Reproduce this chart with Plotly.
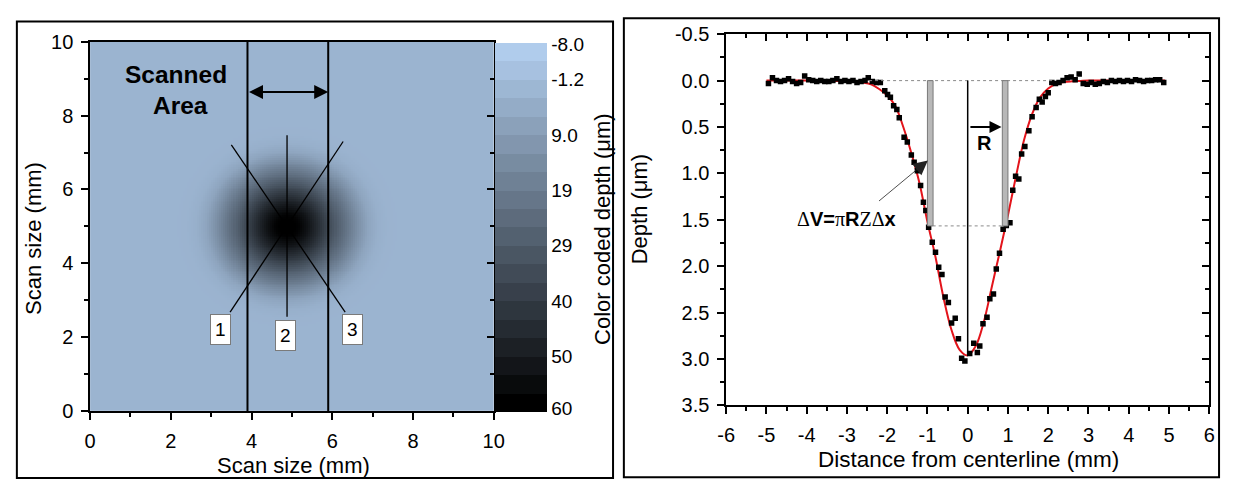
import numpy as np
import plotly.graph_objects as go

W, H = 1233, 491

# ---------------- Left panel data (colour-coded depth map) ----------------
radius_mm = [0.0, 0.3, 0.5, 0.75, 1.0, 1.25, 1.5, 1.75, 2.0, 2.25, 2.5, 3.0]
depth_um = [62, 59, 54, 46, 37, 28, 20, 12, 5, 1.5, 0.3, 0]
spot_center_mm = [4.88, 5.0]
cbar_ticktext = ["-8.0", "-1.2", "9.0", "19", "29", "40", "50", "60"]
cbar_tickdepth = [-7.6, -1.2, 9.0, 19.2, 29.4, 39.6, 49.8, 59.4]
depth_min, depth_max, n_levels = -8.0, 60.0, 20
scan_ticks = [0, 2, 4, 6, 8, 10]
profile_labels = ["1", "2", "3"]

# ---------------- Right panel data (depth profile) ----------------
dist_mm = [-4.95, -4.85, -4.75, -4.65, -4.55, -4.45, -4.35, -4.25, -4.15, -4.05,
           -3.95, -3.85, -3.75, -3.65, -3.55, -3.45, -3.35, -3.25, -3.15, -3.05,
           -2.95, -2.85, -2.75, -2.65, -2.55,
           -2.47, -2.37, -2.27, -2.17, -2.06, -1.99, -1.92, -1.84, -1.76, -1.70,
           -1.58, -1.50, -1.40, -1.33, -1.25, -1.17, -1.10, -1.04, -0.97, -0.88,
           -0.80, -0.72, -0.64, -0.56, -0.48, -0.40, -0.31, -0.23, -0.15, -0.07,
           0.05, 0.15, 0.24, 0.30, 0.38, 0.48, 0.55, 0.64, 0.71, 0.79,
           0.88, 0.96, 1.05, 1.12, 1.19, 1.27, 1.34, 1.42, 1.52, 1.60,
           1.70, 1.78, 1.85, 1.93, 2.00,
           2.09, 2.18, 2.27, 2.37, 2.47, 2.57, 2.67, 2.77, 2.87, 2.97,
           3.07, 3.17, 3.27, 3.37, 3.47, 3.57, 3.67, 3.77, 3.87, 3.97,
           4.07, 4.17, 4.27, 4.37, 4.47, 4.57, 4.67, 4.77, 4.87]
depth_meas = [0.03, -0.03, 0.00, 0.01, 0.00, -0.02, 0.01, 0.03, 0.02, -0.05,
              -0.01, 0.00, 0.01, 0.00, 0.01, 0.01, 0.00, -0.02, 0.01, 0.00,
              0.01, 0.00, 0.02, 0.01, 0.00,
              -0.03, 0.01, 0.02, 0.02, 0.11, 0.15, 0.18, 0.27, 0.31, 0.40,
              0.61, 0.66, 0.80, 0.88, 0.97, 1.13, 1.31, 1.40, 1.58, 1.74,
              1.85, 2.01, 2.09, 2.33, 2.39, 2.61, 2.56, 2.78, 2.99, 3.02,
              2.94, 2.83, 2.93, 2.86, 2.62, 2.55, 2.35, 2.30, 2.03, 1.86,
              1.60, 1.56, 1.53, 1.18, 1.03, 1.06, 0.79, 0.71, 0.54, 0.39,
              0.29, 0.20, 0.23, 0.17, 0.13,
              0.02, 0.03, 0.02, 0.00, -0.03, -0.04, -0.01, -0.07, 0.03, 0.04,
              0.02, 0.04, 0.03, 0.01, 0.02, 0.00, 0.01, 0.00, 0.01, 0.00,
              0.01, -0.01, 0.00, 0.01, 0.00, 0.00, -0.01, -0.01, 0.02]
fit_x = [-5.0, -4.0, -3.0, -2.8, -2.6, -2.4, -2.2, -2.0, -1.8, -1.6, -1.4, -1.2,
         -1.0, -0.8, -0.6, -0.4, -0.2, 0.0, 0.2, 0.4, 0.6, 0.8, 1.0, 1.2, 1.4,
         1.6, 1.8, 2.0, 2.2, 2.4, 2.6, 2.8, 3.0, 4.0, 4.9]
fit_y = [0.0, 0.0, 0.005, 0.01, 0.02, 0.04, 0.09, 0.16, 0.27, 0.50, 0.78, 1.10,
         1.52, 1.90, 2.34, 2.69, 2.90, 2.96, 2.86, 2.60, 2.22, 1.84, 1.45, 1.03, 0.64,
         0.36, 0.18, 0.085, 0.035, 0.015, 0.008, 0.004, 0.0, 0.0, 0.0]
dist_ticks = [-6, -5, -4, -3, -2, -1, 0, 1, 2, 3, 4, 5, 6]
depth_ticks = [-0.5, 0.0, 0.5, 1.0, 1.5, 2.0, 2.5, 3.0, 3.5]
slice_depth = 1.565

assert len(dist_mm) == len(depth_meas)
assert len(fit_x) == len(fit_y)

# ---------------- styling helpers ----------------
FONT = "Liberation Sans, Arial, sans-serif"
SERIF = "Liberation Serif, Times New Roman, serif"
LIGHT = np.array([176, 204, 236])


def rgb(v):
    v = np.clip(v, 0, 255).round().astype(int)
    return f"rgb({v[0]},{v[1]},{v[2]})"


def px_x(p):
    return p / W


def px_y(p):
    return 1 - p / H


# depth map grid built from the radial profile
gx = np.linspace(0.025, 9.975, 200)
gy = np.linspace(0.025, 9.975, 200)
XX, YY = np.meshgrid(gx, gy)
RR = np.hypot(XX - spot_center_mm[0], YY - spot_center_mm[1])
ZZ = np.interp(RR, radius_mm, depth_um)

smooth_scale = [[0.0, rgb(LIGHT)], [1.0, rgb(LIGHT * 0)]]
stepped = []
for j in range(n_levels):
    i = n_levels - 1 - j
    c = rgb(LIGHT * (1 - i / (n_levels - 1)))
    stepped.append([j / n_levels, c])
    stepped.append([(j + 1) / n_levels, c])

fig = go.Figure()

fig.add_trace(go.Heatmap(x=gx, y=gy, z=ZZ, zmin=depth_min, zmax=depth_max,
                         colorscale=smooth_scale, showscale=False,
                         hoverinfo="skip", xaxis="x", yaxis="y"))

# colour bar (levels, -8 at the top)
cb_top, cb_bot = 33.0, 419.5
fig.add_trace(go.Scatter(
    x=[-5], y=[-5], mode="markers", xaxis="x", yaxis="y", showlegend=False,
    hoverinfo="skip",
    marker=dict(color=[0], cmin=-depth_max, cmax=-depth_min, colorscale=stepped,
                showscale=True, size=1,
                colorbar=dict(x=px_x(494.5), xanchor="left", xpad=0, ypad=0,
                              y=px_y((cb_top + cb_bot) / 2), yanchor="middle",
                              len=(cb_bot - cb_top) / H, lenmode="fraction",
                              thickness=52, thicknessmode="pixels",
                              outlinewidth=0, ticks="", ticklen=5,
                              tickvals=[-d for d in cbar_tickdepth],
                              ticktext=cbar_ticktext,
                              tickfont=dict(family=FONT, size=19, color="black")))))

# right panel traces
fig.add_trace(go.Scatter(x=fit_x, y=fit_y, mode="lines", xaxis="x2", yaxis="y2",
                         line=dict(color="#e3141b", width=2, shape="spline"),
                         showlegend=False, hoverinfo="skip"))
fig.add_trace(go.Scatter(x=dist_mm, y=depth_meas, mode="markers", xaxis="x2", yaxis="y2",
                         marker=dict(symbol="square", size=5.5, color="black"),
                         showlegend=False, hoverinfo="skip"))

# dummy traces to activate the mirrored tick axes
fig.add_trace(go.Scatter(x=[None], y=[None], xaxis="x", yaxis="y3", showlegend=False))
fig.add_trace(go.Scatter(x=[None], y=[None], xaxis="x4", yaxis="y2", showlegend=False))
fig.add_trace(go.Scatter(x=[None], y=[None], xaxis="x2", yaxis="y4", showlegend=False))

axis_common = dict(showgrid=False, zeroline=False, showline=True, linecolor="black",
                   linewidth=1.5, ticks="outside", ticklen=7, tickwidth=1.5,
                   tickcolor="black", tickfont=dict(family=FONT, size=20, color="black"),
                   fixedrange=True, ticklabelstandoff=4)
mirror_common = dict(showgrid=False, zeroline=False, showline=False, ticks="inside",
                     ticklen=7, tickwidth=1.5, tickcolor="black", showticklabels=False,
                     fixedrange=True)

L_dom_x = [px_x(82.4), px_x(492.7)]
L_dom_y = [px_y(418.7), px_y(32.3)]
R_dom_x = [px_x(729.0), px_x(1220.0)]
R_dom_y = [px_y(413.0), px_y(24.3)]

fig.update_layout(
    width=W, height=H, autosize=False,
    margin=dict(l=0, r=0, t=0, b=0),
    paper_bgcolor="white", plot_bgcolor="white",
    font=dict(family=FONT, color="black"),
    showlegend=False,
    xaxis=dict(domain=L_dom_x, range=[0, 10], anchor="y", mirror=True,
               tickvals=scan_ticks, ticktext=[str(t) for t in scan_ticks],
               minor=dict(dtick=1, ticks="outside", ticklen=4, tickwidth=1.5, tickcolor="black"),
               **axis_common),
    yaxis=dict(domain=L_dom_y, range=[0, 10], anchor="x", mirror=True,
               tickvals=scan_ticks, ticktext=[str(t) for t in scan_ticks],
               minor=dict(dtick=1, ticks="outside", ticklen=4, tickwidth=1.5, tickcolor="black"),
               **axis_common),
    yaxis3=dict(overlaying="y", side="right", anchor="x", range=[0, 10],
                tickvals=scan_ticks,
                minor=dict(dtick=1, ticks="inside", ticklen=4, tickwidth=1.5, tickcolor="black"),
                **mirror_common),
    xaxis2=dict(domain=R_dom_x, range=[-6, 6], anchor="y2", mirror=True,
                tickvals=dist_ticks, ticktext=[str(t) for t in dist_ticks],
                minor=dict(dtick=0.5, ticks="outside", ticklen=4, tickwidth=1.5, tickcolor="black"),
                **axis_common),
    yaxis2=dict(domain=R_dom_y, range=[3.5, -0.5], anchor="x2", mirror=True,
                tickvals=depth_ticks, ticktext=[f"{t:.1f}" for t in depth_ticks],
                minor=dict(dtick=0.25, ticks="outside", ticklen=4, tickwidth=1.5, tickcolor="black"),
                **axis_common),
    xaxis4=dict(overlaying="x2", side="top", anchor="y2", range=[-6, 6],
                tickvals=dist_ticks,
                minor=dict(dtick=0.5, ticks="inside", ticklen=4, tickwidth=1.5, tickcolor="black"),
                **mirror_common),
    yaxis4=dict(overlaying="y2", side="right", anchor="x2", range=[3.5, -0.5],
                tickvals=depth_ticks,
                minor=dict(dtick=0.25, ticks="inside", ticklen=4, tickwidth=1.5, tickcolor="black"),
                **mirror_common),
)

shapes = []
# panel frames
shapes.append(dict(type="rect", xref="paper", yref="paper", x0=px_x(8), x1=px_x(614),
                   y0=px_y(489), y1=px_y(11), line=dict(color="black", width=2)))
shapes.append(dict(type="rect", xref="paper", yref="paper", x0=px_x(625), x1=px_x(1230),
                   y0=px_y(488), y1=px_y(7.5), line=dict(color="black", width=2)))
# scanned-area boundaries and profile lines (left)
for xv in (3.9, 5.9):
    shapes.append(dict(type="line", xref="x", yref="y", x0=xv, x1=xv, y0=0, y1=10,
                       line=dict(color="black", width=2)))
for (x0, y0, x1, y1) in [(3.47, 2.68, 6.27, 7.30), (4.88, 2.55, 4.88, 7.47), (3.50, 7.21, 6.32, 2.68)]:
    shapes.append(dict(type="line", xref="x", yref="y", x0=x0, y0=y0, x1=x1, y1=y1,
                       line=dict(color="black", width=1.3)))
# right panel guides
shapes.append(dict(type="line", xref="x2", yref="y2", x0=-2.45, x1=2.1, y0=0, y1=0,
                   line=dict(color="#8a8a8a", width=1, dash="dot")))
shapes.append(dict(type="line", xref="x2", yref="y2", x0=-0.87, x1=0.92, y0=slice_depth, y1=slice_depth,
                   line=dict(color="#8a8a8a", width=1, dash="dot")))
for (a, b) in [(-1.0, -0.86), (0.86, 1.0)]:
    shapes.append(dict(type="rect", xref="x2", yref="y2", x0=a, x1=b, y0=0, y1=slice_depth,
                       fillcolor="#b8b8b8", line=dict(color="#7a7a7a", width=1)))
shapes.append(dict(type="line", xref="x2", yref="y2", x0=0, x1=0, y0=0, y1=2.96,
                   line=dict(color="black", width=1.5)))
fig.update_layout(shapes=shapes)

ann = []
# axis titles
ann.append(dict(text="Scan size (mm)", xref="paper", yref="paper", x=px_x(289), y=px_y(476),
                showarrow=False, font=dict(size=22), xanchor="center", yanchor="middle"))
ann.append(dict(text="Scan size (mm)", xref="paper", yref="paper", x=px_x(25), y=px_y(238),
                showarrow=False, font=dict(size=22), textangle=-90, xanchor="center", yanchor="middle"))
ann.append(dict(text="Color coded depth (μm)", xref="paper", yref="paper", x=px_x(604), y=px_y(228),
                showarrow=False, font=dict(size=22), textangle=-90, xanchor="center", yanchor="middle"))
ann.append(dict(text="Distance from centerline (mm)", xref="paper", yref="paper", x=px_x(975), y=px_y(470),
                showarrow=False, font=dict(size=22.5), xanchor="center", yanchor="middle"))
ann.append(dict(text="Depth (μm)", xref="paper", yref="paper", x=px_x(641), y=px_y(208),
                showarrow=False, font=dict(size=22), textangle=-90, xanchor="center", yanchor="middle"))
# left panel labels
ann.append(dict(text="<b>Scanned</b>", xref="x", yref="y", x=2.14, y=9.11, showarrow=False,
                font=dict(size=24.5)))
ann.append(dict(text="<b>Area</b>", xref="x", yref="y", x=2.24, y=8.27, showarrow=False,
                font=dict(size=24.5)))
for lab, (lx, ly) in zip(profile_labels, [(3.22, 2.21), (4.83, 2.04), (6.49, 2.21)]):
    ann.append(dict(text=lab, xref="x", yref="y", x=lx, y=ly, showarrow=False,
                    font=dict(size=19), bgcolor="white", bordercolor="#7a7a7a",
                    borderwidth=1, borderpad=4))
ann.append(dict(text="", xref="x", yref="y", x=5.9, y=8.64, ax=3.9, ay=8.64,
                axref="x", ayref="y", showarrow=True, arrowside="end+start",
                arrowhead=2, startarrowhead=2, arrowsize=1.4, startarrowsize=1.4,
                arrowwidth=2, arrowcolor="black"))
# right panel labels
ann.append(dict(text="", xref="x2", yref="y2", x=0.84, y=0.5, ax=0.03, ay=0.5,
                axref="x2", ayref="y2", showarrow=True, arrowhead=2, arrowsize=1.2,
                arrowwidth=2, arrowcolor="black"))
ann.append(dict(text="<b>R</b>", xref="x2", yref="y2", x=0.42, y=0.67, showarrow=False,
                font=dict(size=20)))
ann.append(dict(text="", xref="x2", yref="y2", x=-0.99, y=0.86, ax=-2.24, ay=1.31,
                axref="x2", ayref="y2", showarrow=True, arrowhead=2, arrowsize=3.6,
                arrowwidth=0.8, arrowcolor="#222222"))
formula = (f'<span style="font-family:{SERIF}">Δ</span><b>V=</b>'
           f'<span style="font-family:{SERIF}">π</span><b>R</b>'
           f'<span style="font-family:{SERIF}">ZΔ</span><b>x</b>')
ann.append(dict(text=formula, xref="x2", yref="y2", x=-3.02, y=1.49, showarrow=False,
                font=dict(size=20)))
fig.update_layout(annotations=ann)

fig.write_html("out.html", config={"displayModeBar": False},
               post_script="document.body.style.margin='0';document.body.style.overflow='hidden';")
